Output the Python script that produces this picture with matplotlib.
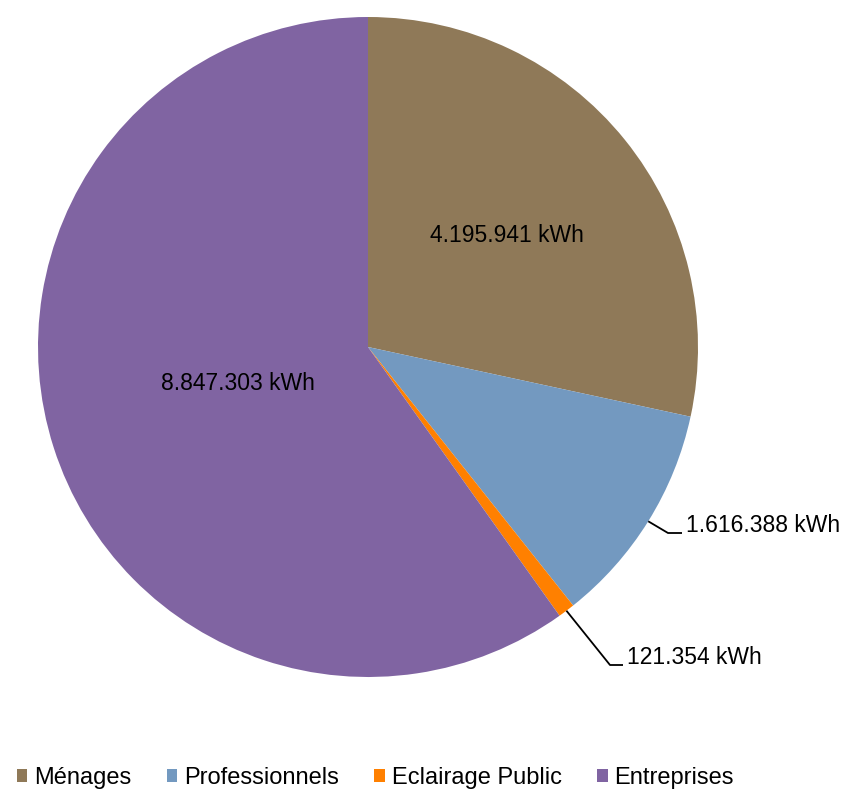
import numpy as np
import matplotlib
matplotlib.use("Agg")
import matplotlib.pyplot as plt
from matplotlib.patches import Patch

plt.rcParams['font.family'] = ['Liberation Sans', 'DejaVu Sans']

# -------------------------------
# DATA
# -------------------------------
categories = ["Ménages", "Professionnels", "Eclairage Public", "Entreprises"]
values = [4195941, 1616388, 121354, 8847303]
value_labels = ["4.195.941 kWh", "1.616.388 kWh", "121.354 kWh", "8.847.303 kWh"]
colors = ["#8F7958", "#7399C0", "#FF8000", "#8064A2"]

# -------------------------------
# FIGURE
# -------------------------------
W, H = 851, 791
fig = plt.figure(figsize=(W / 100, H / 100), dpi=100)
cx, cy, R = 368, 347, 330
ax = fig.add_axes([(cx - R) / W, (H - cy - R) / H, 2 * R / W, 2 * R / H])

wedges, _ = ax.pie(values, colors=colors, startangle=90, counterclock=False,
                   radius=1.0, center=(0, 0))
ax.set_xlim(-1, 1)
ax.set_ylim(-1, 1)
ax.set_aspect("equal")
ax.axis("off")

fs = 16.5

def mid_angle(w):
    return np.deg2rad((w.theta1 + w.theta2) / 2)

# inside labels
a0 = mid_angle(wedges[0])
ax.text(0.54 * np.cos(a0), 0.54 * np.sin(a0), value_labels[0],
        ha="center", va="center", fontsize=fs, color="black")
ax.text(0.41 * np.cos(np.deg2rad(-164.5)), 0.41 * np.sin(np.deg2rad(-164.5)),
        value_labels[3], ha="center", va="center", fontsize=fs, color="black")

# outside labels with leader lines
def leader(w, elbow, end, text_pos, label):
    a = mid_angle(w)
    x0, y0 = np.cos(a), np.sin(a)
    ax.plot([x0, elbow[0], end[0]], [y0, elbow[1], end[1]],
            color="black", lw=1.3, clip_on=False, solid_capstyle="butt")
    ax.text(text_pos[0], text_pos[1], label, ha="left", va="center",
            fontsize=fs, color="black", clip_on=False)

def px(x, y):
    return ((x - cx) / R, -(y - cy) / R)

leader(wedges[1], px(668, 533), px(682, 533), px(686, 525), value_labels[1])
leader(wedges[2], px(610, 665), px(623, 665), px(627, 658), value_labels[2])

# legend
handles = [Patch(facecolor=c, edgecolor="none") for c in colors]
fig.legend(handles, categories, loc="center left", ncol=4,
           bbox_to_anchor=(5 / W, 1 - 778 / H), frameon=False,
           fontsize=17, handlelength=0.45, handleheight=0.45,
           handletextpad=0.3, columnspacing=1.48, borderpad=0)

fig.savefig("out.png", dpi=100)
